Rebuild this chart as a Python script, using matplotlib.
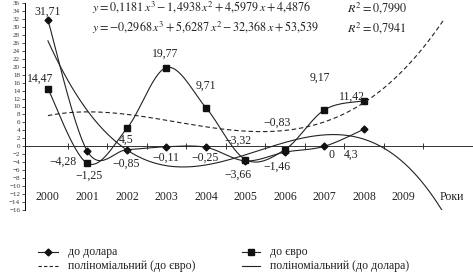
import numpy as np
import matplotlib.pyplot as plt
from matplotlib.lines import Line2D

plt.rcParams['font.family'] = ['Liberation Serif', 'DejaVu Serif']
plt.rcParams['mathtext.fontset'] = 'stix'

# data
years = ['2000', '2001', '2002', '2003', '2004', '2005', '2006', '2007', '2008', '2009']
usd = [31.71, -1.25, -0.85, -0.11, -0.25, -3.66, -1.46, 0, 4.3]
eur = [14.47, -4.28, 4.5, 19.77, 9.71, -3.32, -0.83, 9.17, 11.42]
# trend coefficients (x = 1 for 2000)
poly_eur = [0.1181, -1.4938, 4.5979, 4.4876]
poly_usd = [-0.2968, 5.6287, -32.368, 53.539]
r2_eur = '0,7990'
r2_usd = '0,7941'

# label offsets in pixels (layout only)
usd_off = [(0, 8), (2, -24), (-1, -14), (-1, -11), (-1, -10), (-8, -14), (-8, -15), (7, -9), (-13, -26)]
eur_off = [(-8, 10), (-24, 2), (-1, -11), (-1, 14), (0, 22), (-8, 19), (-8, 27), (-5, 32), (-12, 4)]

INK = '#222222'


def smooth(xs, ys, n=30):
    # Excel-like smoothed line (Catmull-Rom as bezier)
    p = np.column_stack([xs, ys]).astype(float)
    p = np.vstack([p[0], p, p[-1]])
    out = []
    t = np.linspace(0, 1, n)[:, None]
    for i in range(1, len(p) - 2):
        p0, p1, p2, p3 = p[i - 1], p[i], p[i + 1], p[i + 2]
        c1 = p1 + (p2 - p0) / 6
        c2 = p2 - (p3 - p1) / 6
        seg = (1 - t) ** 3 * p1 + 3 * (1 - t) ** 2 * t * c1 + 3 * (1 - t) * t ** 2 * c2 + t ** 3 * p2
        out.append(seg)
    out = np.vstack(out)
    return out[:, 0], out[:, 1]


def fmt(v):
    return ('%g' % v).replace('.', ',').replace('-', '\u2212')


fig = plt.figure(figsize=(4.73, 2.79), dpi=100)
ax = fig.add_axes([25 / 473, 69 / 279, 448 / 473, 207 / 279])
ax.set_xlim(-0.58, 10.76)
ax.set_ylim(-16, 36)

ax.axhline(0, color='#333333', lw=0.7)
ax.plot(np.arange(len(years)) + 0.5, np.zeros(len(years)), ls='none', marker='|',
        ms=5, mew=0.7, color='#333333')

xi = np.arange(len(usd))
sx, sy = smooth(xi, usd)
ax.plot(sx, sy, color=INK, lw=0.8)
ax.plot(xi, usd, ls='none', marker='D', ms=3.5, color='#111111')
sx, sy = smooth(xi, eur)
ax.plot(sx, sy, color=INK, lw=0.8)
ax.plot(xi, eur, ls='none', marker='s', ms=5, color='#111111')

xp = np.linspace(0, 10, 200)
ax.plot(xp, np.polyval(poly_eur, xp + 1), color=INK, lw=0.8, ls=(0, (4, 2.5)))
ax.plot(xp, np.polyval(poly_usd, xp + 1), color=INK, lw=0.8)

for i, v in enumerate(usd):
    ax.annotate(fmt(v), (i, v), xytext=usd_off[i], textcoords='offset pixels',
                ha='center', va='center', fontsize=8.5, color=INK)
for i, v in enumerate(eur):
    ax.annotate(fmt(v), (i, v), xytext=eur_off[i], textcoords='offset pixels',
                ha='center', va='center', fontsize=8.5, color=INK)

for i, y in enumerate(years):
    ax.text(i, -12.8, y, ha='center', va='center', fontsize=8.5, color=INK)
ax.text(10.23, -12.8, 'Роки', ha='center', va='center', fontsize=8.5, color=INK)

for s in ['top', 'right', 'bottom']:
    ax.spines[s].set_visible(False)
ax.spines['left'].set_linewidth(0.7)
ax.set_xticks([])
ax.set_yticks(np.arange(-16, 37, 2))
ax.set_yticklabels([fmt(v) for v in np.arange(-16, 37, 2)])
ax.tick_params(axis='y', labelsize=5, length=2.5, width=0.6, pad=1, colors='#333333')


def mnum(v):
    return ('%g' % v).replace('.', '{,}')


def poly_text(c):
    s = 'y = ' + ('-' if c[0] < 0 else '') + mnum(abs(c[0])) + r'\,x^3'
    for k, p in zip(c[1:], [r'\,x^2', r'\,x', '']):
        s += (' + ' if k >= 0 else ' - ') + mnum(abs(k)) + p
    return '$' + s + '$'


fig.text(92 / 473, 1 - 8 / 279, poly_text(poly_eur), fontsize=8.7, va='center', color=INK)
fig.text(347 / 473, 1 - 8 / 279, '$R^2 = ' + r2_eur.replace(',', '{,}') + '$', fontsize=8.7, va='center', color=INK)
fig.text(92 / 473, 1 - 28 / 279, poly_text(poly_usd), fontsize=8.7, va='center', color=INK)
fig.text(347 / 473, 1 - 28 / 279, '$R^2 = ' + r2_usd.replace(',', '{,}') + '$', fontsize=8.7, va='center', color=INK)


# legend drawn by hand
def leg(x0, x1, y, txt, marker=None, ms=0, ls='-'):
    yy = 1 - y / 279
    fig.add_artist(Line2D([x0 / 473, x1 / 473], [yy, yy], color=INK, lw=0.8, ls=ls))
    if marker:
        fig.add_artist(Line2D([(x0 + x1) / 2 / 473], [yy], marker=marker, ms=ms, color='#111111'))
    fig.text(x1 / 473 + 10 / 473, yy, txt, fontsize=8.5, va='center', color=INK)


leg(38, 58, 252, 'до долара', 'D', 3.5)
leg(242, 260, 252, 'до євро', 's', 4.5)
leg(38, 58, 266, 'поліноміальний (до євро)', ls=(0, (3, 2)))
leg(242, 260, 266, 'поліноміальний (до долара)')

fig.savefig('out.png', dpi=100)
